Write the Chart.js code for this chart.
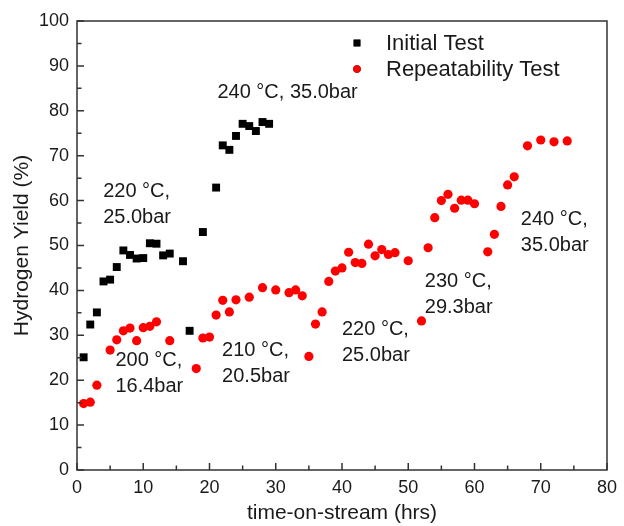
<!DOCTYPE html>
<html>
<head>
<meta charset="utf-8">
<script src="https://cdn.jsdelivr.net/npm/chart.js@4/dist/chart.umd.min.js"></script>
<style>
  html, body { margin: 0; padding: 0; background: #ffffff; }
  #wrap { width: 624px; height: 526px; }
</style>
</head>
<body>
<div id="wrap"><canvas id="c" width="624" height="526"></canvas></div>
<script>
// ---- data ----
const initialHours = [1,2,3,4,5,6,7,8,9,10,11,12,13,14,16,17,19,21,22,23,24,25,26,27,28,29];
const initialYield = [25.1,32.4,35.1,42.0,42.4,45.2,48.9,47.9,47.1,47.2,50.5,50.4,47.8,48.2,46.5,31.0,53.0,62.9,72.3,71.3,74.4,77.1,76.6,75.5,77.5,77.1];

const repeatHours = [1,2,3,5,6,7,8,9,10,11,12,14,18,19,20,21,22,23,24,26,28,30,32,33,34,35,36,37,38,39,40,41,42,43,44,45,46,47,48,50,52,53,54,55,56,57,58,59,60,62,63,64,65,66,68,70,72,74];
const repeatYield = [14.8,15.1,18.9,26.7,29.0,31.0,31.6,28.8,31.7,32.0,33.0,28.8,22.6,29.4,29.6,34.5,37.8,35.2,37.9,38.5,40.6,40.1,39.5,40.1,38.8,25.3,32.5,35.2,42.0,44.3,45.0,48.5,46.2,46.0,50.3,47.7,49.1,48.0,48.4,46.6,33.2,49.5,56.2,60.0,61.4,58.3,60.1,60.1,59.3,48.6,52.5,58.7,63.5,65.3,72.2,73.5,73.1,73.3];

const seriesNames = ['Initial Test', 'Repeatability Test'];
const xTicks = [0,10,20,30,40,50,60,70,80];
const yTicks = [0,10,20,30,40,50,60,70,80,90,100];
const xTitle = 'time-on-stream (hrs)';
const yTitle = 'Hydrogen Yield (%)';

// condition labels: text lines anchored at (hours, yield) of first line's left/middle
const conditionText = [
  ['220 °C,', '25.0bar'],
  ['240 °C, 35.0bar'],
  ['200 °C,', '16.4bar'],
  ['210 °C,', '20.5bar'],
  ['220 °C,', '25.0bar'],
  ['230 °C,', '29.3bar'],
  ['240 °C,', '35.0bar']
];
const conditionHours = [3.95, 21.2, 5.8, 21.9, 40.0, 52.5, 67.0];
const conditionYield = [62.0, 84.1, 24.3, 26.7, 31.2, 41.9, 55.8];

// ---- rendering ----
const FONT = "'Liberation Sans', Arial, Helvetica, sans-serif";
const AXIS_COLOR = '#333333';

const toPoints = (xs, ys) => xs.map((x, i) => ({ x: x, y: ys[i] }));

const frameAndTicks = {
  id: 'frameAndTicks',
  afterDraw(chart) {
    const { ctx, chartArea: a, scales: { x, y } } = chart;
    ctx.save();
    ctx.strokeStyle = AXIS_COLOR;
    ctx.lineWidth = 1.5;
    ctx.beginPath();
    ctx.rect(a.left, a.top, a.right - a.left, a.bottom - a.top);
    ctx.stroke();
    ctx.beginPath();
    for (let v = 0; v <= 80; v += 5) {
      const px = x.getPixelForValue(v);
      const len = (v % 10 === 0) ? 7 : 4.5;
      ctx.moveTo(px, a.bottom);
      ctx.lineTo(px, a.bottom - len);
    }
    for (let v = 0; v <= 100; v += 5) {
      const py = y.getPixelForValue(v);
      const len = (v % 10 === 0) ? 7 : 4.5;
      ctx.moveTo(a.left, py);
      ctx.lineTo(a.left + len, py);
    }
    ctx.stroke();
    ctx.restore();
  }
};

const annotationsAndLegend = {
  id: 'annotationsAndLegend',
  afterDatasetsDraw(chart) {
    const { ctx, scales: { x, y } } = chart;
    ctx.save();
    ctx.fillStyle = '#1a1a1a';
    ctx.font = '20px ' + FONT;
    ctx.textAlign = 'left';
    ctx.textBaseline = 'middle';
    conditionText.forEach((lines, i) => {
      const px = x.getPixelForValue(conditionHours[i]);
      const py = y.getPixelForValue(conditionYield[i]);
      lines.forEach((t, j) => ctx.fillText(t, px, py + j * 26));
    });

    // legend
    const ds = chart.data.datasets;
    const lx = 357, ly = [43, 69];
    ctx.font = '22px ' + FONT;
    ds.forEach((d, i) => {
      Chart.helpers.drawPoint(ctx, {
        pointStyle: d.pointStyle,
        radius: d.pointStyle === 'rect' ? 4.8 : 3.8,
        rotation: 0,
        borderWidth: 0
      }, lx, ly[i]);
      ctx.fillStyle = d.backgroundColor;
      ctx.fill();
      ctx.fillStyle = '#1a1a1a';
      ctx.fillText(d.label, 386, ly[i] + 1);
    });
    ctx.restore();
  }
};

new Chart(document.getElementById('c'), {
  type: 'scatter',
  data: {
    datasets: [
      {
        label: seriesNames[0],
        data: toPoints(initialHours, initialYield),
        pointStyle: 'rect',
        pointRadius: 5.6,
        pointHoverRadius: 5.6,
        backgroundColor: '#000000',
        borderColor: '#000000',
        borderWidth: 0
      },
      {
        label: seriesNames[1],
        data: toPoints(repeatHours, repeatYield),
        pointStyle: 'circle',
        pointRadius: 4.6,
        pointHoverRadius: 4.6,
        backgroundColor: '#ff0000',
        borderColor: '#ff0000',
        borderWidth: 0
      }
    ]
  },
  options: {
    responsive: false,
    animation: false,
    events: [],
    layout: { padding: { top: 21, right: 14, left: 0, bottom: 0 } },
    plugins: {
      legend: { display: false },
      tooltip: { enabled: false }
    },
    scales: {
      x: {
        type: 'linear',
        min: 0, max: 80,
        afterBuildTicks: (s) => { s.ticks = xTicks.map(v => ({ value: v })); },
        afterFit: (s) => { s.height = 56; },
        grid: { display: false, drawTicks: false },
        border: { display: false },
        ticks: { color: '#1a1a1a', font: { family: FONT, size: 18 }, padding: 7, maxRotation: 0 },
        title: { display: true, text: xTitle, color: '#1a1a1a', font: { family: FONT, size: 21 }, padding: { top: 0, bottom: 0 } }
      },
      y: {
        type: 'linear',
        min: 0, max: 100,
        afterBuildTicks: (s) => { s.ticks = yTicks.map(v => ({ value: v })); },
        afterFit: (s) => { s.width = 77; },
        grid: { display: false, drawTicks: false },
        border: { display: false },
        ticks: { color: '#1a1a1a', font: { family: FONT, size: 18 }, padding: 8 },
        title: { display: true, text: yTitle, color: '#1a1a1a', font: { family: FONT, size: 21 }, padding: { top: 10, bottom: 0 } }
      }
    }
  },
  plugins: [frameAndTicks, annotationsAndLegend]
});
</script>
</body>
</html>
